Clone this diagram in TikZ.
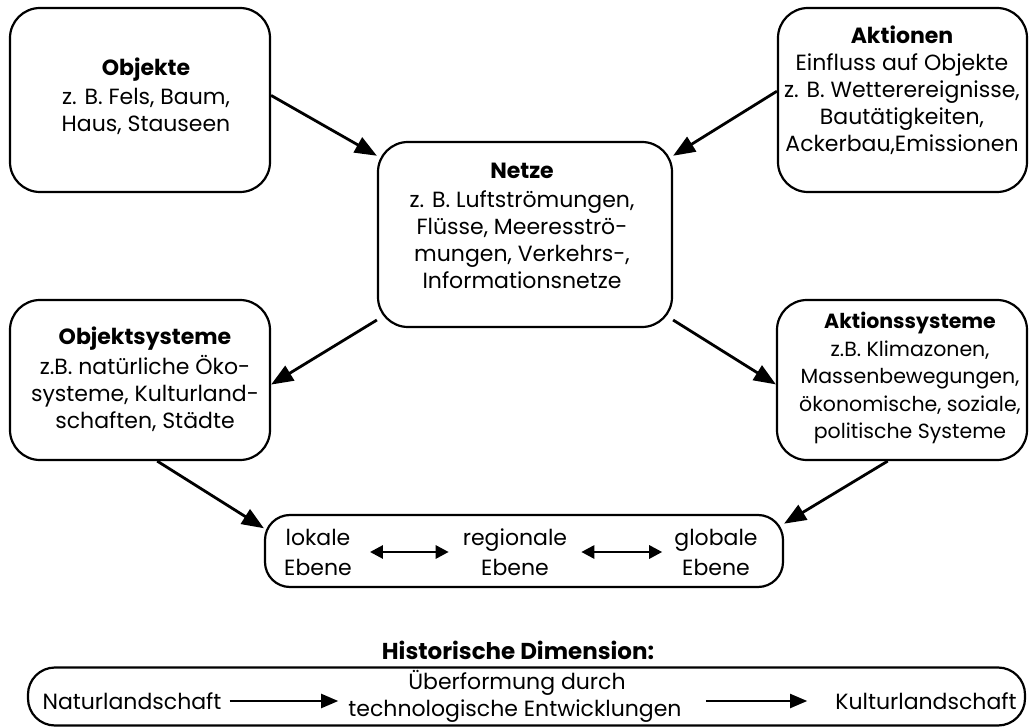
\documentclass[tikz,border=0pt]{standalone}
\usepackage{fontspec}
\setmainfont{Poppins}
\usetikzlibrary{arrows.meta,calc}

\begin{document}
\begin{tikzpicture}[x=1pt,y=-1pt,
  box/.style={draw, line width=2.2pt, rounded corners=30pt, inner sep=0pt},
  pill/.style={draw, line width=2.2pt, rounded corners=25pt, inner sep=0pt},
  txt/.style={align=center, inner sep=0pt, font=\fontsize{22}{27}\selectfont},
  conn/.style={line width=2.8pt, -{Triangle[length=22pt,width=17pt]}},
  dbl/.style={line width=2.8pt, {Triangle[length=13pt,width=13pt]}-{Triangle[length=13pt,width=13pt]}},
  hist/.style={line width=2pt, -{Triangle[length=17pt,width=14pt]}}]

\useasboundingbox[fill=white] (0,0) rectangle (1031,727);

% concept boxes
\node[box, minimum width=260pt, minimum height=184pt] (obj) at (140,100) {};
\node[txt] (objT) at (146,96) {\textbf{Objekte}\\[2pt]z. B. Fels, Baum,\\Haus, Stauseen};

\node[box, minimum width=249pt, minimum height=184pt] (akt) at (902.5,100) {};
\node[txt] (aktT) at (902,90) {\textbf{Aktionen}\\Einfluss auf Objekte\\z. B. Wetterereignisse,\\Bautätigkeiten,\\Ackerbau,Emissionen};

\node[box, minimum width=294pt, minimum height=185pt] (net) at (525,234.5) {};
\node[txt] (netT) at (522,226) {\textbf{Netze}\\[2pt]z. B. Luftströmungen,\\Flüsse, Meeresströ-\\mungen, Verkehrs-,\\Informationsnetze};

\node[box, minimum width=260pt, minimum height=160pt] (osy) at (140,380) {};
\node[txt] (osyT) at (145,379) {\textbf{Objektsysteme}\\[3pt]z.B. natürliche Öko-\\systeme, Kulturland-\\schaften, Städte};

\node[box, minimum width=250pt, minimum height=160pt] (asy) at (902,380) {};
\node[txt, font=\fontsize{20.5}{27.5}\selectfont] (asyT) at (910,378) {\textbf{Aktionssysteme}\\z.B. Klimazonen,\\Massenbewegungen,\\ökonomische, soziale,\\politische Systeme};

% spatial levels
\node[pill, minimum width=518pt, minimum height=72pt] (ebe) at (524,551) {};
\node[txt, font=\fontsize{22}{30}\selectfont] (lok) at (318,552) {lokale\\Ebene};
\node[txt, font=\fontsize{22}{30}\selectfont] (reg) at (515,552) {regionale\\Ebene};
\node[txt, font=\fontsize{22}{30}\selectfont] (glo) at (716,552) {globale\\Ebene};

% historical dimension
\node[txt, font=\fontsize{23}{27}\bfseries] (hd) at (518,650) {Historische Dimension:};
\node[pill, rounded corners=27pt, minimum width=997pt, minimum height=58pt] (his) at (526.5,696.5) {};
\node[txt] (nat) at (132,701) {Naturlandschaft};
\node[txt, anchor=base] (ueb1) at (517,689) {Überformung durch};
\node[txt, anchor=base] (ueb2) at (515,716) {technologische Entwicklungen};
\node[txt] (kul) at (926,701) {Kulturlandschaft};

% connectors
\draw[conn] (obj.2) -- (net.152);
\draw[conn] (akt.176) -- (net.28);
\draw[conn] (net.210) -- (osy.-2);
\draw[conn] (net.-30) -- (asy.182);
\draw[conn] (osy.-78) -- (ebe.175);
\draw[conn] (asy.260) -- (ebe.6);

\draw[dbl] ([xshift=18pt]lok.east) -- ([xshift=-14pt]reg.west);
\draw[dbl] ([xshift=14pt]reg.east) -- ([xshift=-12pt]glo.west);

\draw[hist] ([xshift=8pt]nat.east) -- ([xshift=-10pt]nat.east -| ueb2.west);
\draw[hist] ([xshift=24pt]kul.west -| ueb2.east) -- ([xshift=-28pt]kul.west);
\end{tikzpicture}
\end{document}
